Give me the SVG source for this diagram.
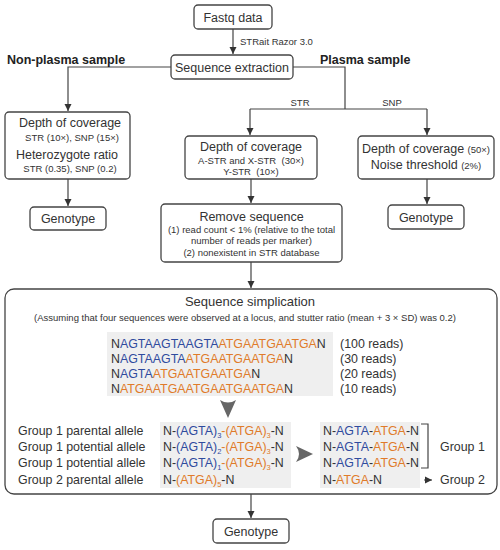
<svg xmlns="http://www.w3.org/2000/svg" width="500" height="550" viewBox="0 0 500 550">
<style>
text{font-family:"Liberation Sans",Arial,sans-serif;fill:#333}
.box{fill:#fff;stroke:#444;stroke-width:1.3}
.gb{fill:#efefef;stroke:none}
.m{font-size:12.5px}
.s{font-size:9.5px}
.t{font-size:12.5px;font-weight:bold;fill:#222}
.q{font-size:12.4px}
.b{fill:#2f4b9e}
.o{fill:#e07b2a}
.sub{font-size:7.5px}
.c{fill:none;stroke:#444;stroke-width:1.2}
</style>
<defs>
<marker id="ah" markerWidth="8" markerHeight="8" refX="7" refY="4" orient="auto" markerUnits="userSpaceOnUse">
<path d="M0,0.5 L7,4 L0,7.5 Z" fill="#333"/>
</marker>
</defs>

<g id="connectors">
<path class="c" d="M233 29 V54" marker-end="url(#ah)"/>
<path class="c" d="M171 67 H68 V111" marker-end="url(#ah)"/>
<path class="c" d="M293 67 H345 V109"/>
<path class="c" d="M250 109 H427"/>
<path class="c" d="M250 109 V135" marker-end="url(#ah)"/>
<path class="c" d="M427 109 V135" marker-end="url(#ah)"/>
<path class="c" d="M68 179 V206" marker-end="url(#ah)"/>
<path class="c" d="M251 179 V203" marker-end="url(#ah)"/>
<path class="c" d="M427 179 V204" marker-end="url(#ah)"/>
<path class="c" d="M251 262 V288" marker-end="url(#ah)"/>
<path class="c" d="M251 494 V518" marker-end="url(#ah)"/>
<text x="240" y="45" class="s">STRait Razor 3.0</text>
<text x="300" y="106" class="s" text-anchor="middle">STR</text>
<text x="392" y="106" class="s" text-anchor="middle">SNP</text>
</g>

<text x="7" y="64" class="t">Non-plasma sample</text>
<text x="320" y="64" class="t">Plasma sample</text>

<g id="fastq">
<rect class="box" x="194" y="5" width="78" height="24" rx="4"/>
<text x="233" y="21.5" class="m" text-anchor="middle">Fastq data</text>
</g>

<g id="extraction">
<rect class="box" x="171" y="55" width="122" height="24" rx="4"/>
<text x="232" y="71.5" class="m" text-anchor="middle">Sequence extraction</text>
</g>

<g id="nonplasma-depth">
<rect class="box" x="5" y="112" width="125" height="67" rx="4"/>
<text x="70" y="127" class="m" text-anchor="middle">Depth of coverage</text>
<text x="72" y="141" class="s" text-anchor="middle">STR (10×), SNP (15×)</text>
<text x="67" y="159" class="m" text-anchor="middle">Heterozygote ratio</text>
<text x="70" y="171.5" class="s" text-anchor="middle">STR (0.35), SNP (0.2)</text>
</g>

<g id="genotype-left">
<rect class="box" x="30" y="207" width="76" height="23" rx="4"/>
<text x="68" y="223" class="m" text-anchor="middle">Genotype</text>
</g>

<g id="str-depth">
<rect class="box" x="185" y="136" width="132" height="43" rx="4"/>
<text x="251" y="151" class="m" text-anchor="middle">Depth of coverage</text>
<text x="251" y="163.5" class="s" text-anchor="middle" xml:space="preserve">A-STR and X-STR  (30×)</text>
<text x="251" y="175" class="s" text-anchor="middle" xml:space="preserve">Y-STR  (10×)</text>
</g>

<g id="remove">
<rect class="box" x="161" y="204" width="181" height="58" rx="4"/>
<text x="251.5" y="221" class="m" text-anchor="middle">Remove sequence</text>
<text x="251.5" y="233" class="s" text-anchor="middle">(1) read count &lt; 1% (relative to the total</text>
<text x="251.5" y="244" class="s" text-anchor="middle">number of reads per marker)</text>
<text x="251.5" y="255.5" class="s" text-anchor="middle">(2) nonexistent in STR database</text>
</g>

<g id="snp-depth">
<rect class="box" x="358" y="136" width="136" height="43" rx="4"/>
<text x="426" y="153" text-anchor="middle"><tspan class="m">Depth of coverage </tspan><tspan class="s">(50×)</tspan></text>
<text x="426" y="169" text-anchor="middle"><tspan class="m">Noise threshold </tspan><tspan class="s">(2%)</tspan></text>
</g>

<g id="genotype-right">
<rect class="box" x="388" y="205" width="76" height="24" rx="4"/>
<text x="426" y="221.5" class="m" text-anchor="middle">Genotype</text>
</g>

<g id="simplification">
<rect class="box" x="5" y="289" width="492" height="205" rx="9"/>
<text x="250" y="305.5" style="font-size:13px" text-anchor="middle">Sequence simplication</text>
<text x="245" y="321" class="s" text-anchor="middle">(Assuming that four sequences were observed at a locus, and stutter ratio (mean + 3 × SD) was 0.2)</text>

<rect class="gb" x="107" y="332" width="226" height="64"/>
<text x="111" y="348" class="q">N<tspan class="b">AGTAAGTAAGTA</tspan><tspan class="o">ATGAATGAATGA</tspan>N</text>
<text x="111" y="363" class="q">N<tspan class="b">AGTAAGTA</tspan><tspan class="o">ATGAATGAATGA</tspan>N</text>
<text x="111" y="378" class="q">N<tspan class="b">AGTA</tspan><tspan class="o">ATGAATGAATGA</tspan>N</text>
<text x="111" y="393" class="q">N<tspan class="o">ATGAATGAATGAATGAATGA</tspan>N</text>
<text x="340" y="348" class="q">(100 reads)</text>
<text x="340" y="363" class="q">(30 reads)</text>
<text x="340" y="378" class="q">(20 reads)</text>
<text x="340" y="393" class="q">(10 reads)</text>

<path d="M220 400 Q228 405 236 400 L228 418 Z" fill="#666"/>

<text x="18" y="435" class="q">Group 1 parental allele</text>
<text x="18" y="451" class="q">Group 1 potential allele</text>
<text x="18" y="467" class="q">Group 1 potential allele</text>
<text x="18" y="484" class="q">Group 2 parental allele</text>

<rect class="gb" x="160" y="422" width="131" height="66"/>
<text x="163" y="435" class="q">N-<tspan class="b">(AGTA)</tspan><tspan class="sub b" dy="2.5">3</tspan><tspan dy="-2.5" class="o">-(ATGA)</tspan><tspan class="sub o" dy="2.5">3</tspan><tspan dy="-2.5">-N</tspan></text>
<text x="163" y="451" class="q">N-<tspan class="b">(AGTA)</tspan><tspan class="sub b" dy="2.5">2</tspan><tspan dy="-2.5" class="o">-(ATGA)</tspan><tspan class="sub o" dy="2.5">3</tspan><tspan dy="-2.5">-N</tspan></text>
<text x="163" y="467" class="q">N-<tspan class="b">(AGTA)</tspan><tspan class="sub b" dy="2.5">1</tspan><tspan dy="-2.5" class="o">-(ATGA)</tspan><tspan class="sub o" dy="2.5">3</tspan><tspan dy="-2.5">-N</tspan></text>
<text x="163" y="484" class="q">N-<tspan class="o">(ATGA)</tspan><tspan class="sub o" dy="2.5">5</tspan><tspan dy="-2.5">-N</tspan></text>

<path d="M296 446 L313 454 L296 462 Q302 454 296 446 Z" fill="#666"/>

<rect class="gb" x="320" y="422" width="100" height="66"/>
<text x="323" y="435" class="q">N-<tspan class="b">AGTA</tspan>-<tspan class="o">ATGA</tspan>-N</text>
<text x="323" y="451" class="q">N-<tspan class="b">AGTA</tspan>-<tspan class="o">ATGA</tspan>-N</text>
<text x="323" y="467" class="q">N-<tspan class="b">AGTA</tspan>-<tspan class="o">ATGA</tspan>-N</text>
<text x="323" y="484" class="q">N-<tspan class="o">ATGA</tspan>-N</text>

<path class="c" d="M421 424 H428 V468 H421"/>
<text x="440" y="451" class="q">Group 1</text>
<path class="c" d="M424 480 H432" marker-end="url(#ah)" style="stroke-width:1"/>
<text x="440" y="484" class="q">Group 2</text>
</g>

<g id="genotype-bottom">
<rect class="box" x="213" y="519" width="76" height="24" rx="4"/>
<text x="251" y="535.5" class="m" text-anchor="middle">Genotype</text>
</g>
</svg>
